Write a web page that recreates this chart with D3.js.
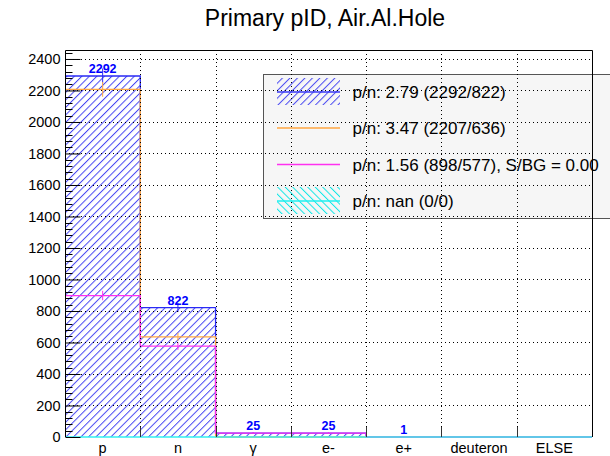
<!DOCTYPE html>
<html>
<head>
<meta charset="utf-8">
<script src="https://cdn.jsdelivr.net/npm/d3@7"></script>
<style>
  html, body { margin: 0; padding: 0; background: #fff; }
  svg { display: block; font-family: "Liberation Sans", Arial, Helvetica, sans-serif; }
</style>
</head>
<body>
<svg id="chart" width="610" height="456"></svg>
<script>
// Particle categories along the x axis
const categories = ["p", "n", "γ", "e-", "e+", "deuteron", "ELSE"];

// Counts per category for each histogram
const allCounts    = [2292, 822, 25, 25, 1, 0, 0];   // blue, hatched
const orangeCounts = [2207, 636, 0, 0, 0, 0, 0];
const pinkCounts   = [898, 577, 25, 25, 0, 0, 0];
const cyanCounts   = [0, 0, 0, 0, 0, 0, 0];          // cyan, hatched

const yTicks = d3.range(0, 2401, 200);

const legendLabels = [
  "p/n: 2.79 (2292/822)",
  "p/n: 3.47 (2207/636)",
  "p/n: 1.56 (898/577), S/BG = 0.00",
  "p/n: nan (0/0)"
];

const svg = d3.select("#chart");
const plotL = 65, plotR = 592, plotT = 50, plotB = 437;

const x = d3.scaleBand().domain(categories).range([plotL, plotR]).padding(0);
const y = d3.scaleLinear().domain([0, 2457]).range([plotB, plotT]);

// Hatch patterns
const defs = svg.append("defs");
function hatch(id, color, dir) {
  const p = defs.append("pattern")
    .attr("id", id).attr("patternUnits", "userSpaceOnUse")
    .attr("width", 5.3).attr("height", 5.3)
    .attr("patternTransform", `rotate(${dir > 0 ? 45 : -45})`);
  p.append("line").attr("x1", 0.5).attr("y1", 0).attr("x2", 0.5).attr("y2", 5.3)
    .attr("stroke", color).attr("stroke-width", 1);
}
hatch("hatchBlue", "#4848f2", 1);
hatch("hatchCyan", "#10e8e8", -1);

// Step outline of a histogram (starts at the top of the first bin)
function stepPath(values) {
  let d = "";
  values.forEach((v, i) => {
    const x0 = x(categories[i]), x1 = x0 + x.bandwidth();
    d += `${i === 0 ? "M" : "L"}${x0 + (i === 0 ? 1 : 0)},${y(v)}L${x1},${y(v)}`;
  });
  return d;
}

function drawHist(values, color, fill) {
  const g = svg.append("g");
  if (fill) {
    g.selectAll("rect").data(values).join("rect")
      .attr("x", (d, i) => x(categories[i]))
      .attr("width", x.bandwidth())
      .attr("y", d => y(d))
      .attr("height", d => y(0) - y(d))
      .attr("fill", fill);
  }
  g.append("path").attr("d", stepPath(values))
    .attr("fill", "none").attr("stroke", color).attr("stroke-width", 1.3);
  // Poisson error bars at bin centres
  g.selectAll("line.err").data(values).join("line")
    .attr("class", "err")
    .attr("x1", (d, i) => x(categories[i]) + x.bandwidth() / 2)
    .attr("x2", (d, i) => x(categories[i]) + x.bandwidth() / 2)
    .attr("y1", d => y(d + Math.sqrt(d)))
    .attr("y2", d => y(Math.max(0, d - Math.sqrt(d))))
    .attr("stroke", color).attr("stroke-width", 1)
    .attr("display", d => d > 0 ? null : "none");
}

drawHist(allCounts, "#2a2af5", "url(#hatchBlue)");
drawHist(orangeCounts, "#ffa640", null);
drawHist(pinkCounts, "#ff30f0", null);
drawHist(cyanCounts, "#30f0f0", "url(#hatchCyan)");

// Count labels above the blue histogram
svg.append("g").selectAll("text").data(allCounts).join("text")
  .attr("x", (d, i) => x(categories[i]) + x.bandwidth() / 2)
  .attr("y", d => y(d) - 3)
  .attr("text-anchor", "middle")
  .attr("font-size", 12.5).attr("font-weight", "bold")
  .attr("fill", "#0000ff")
  .text(d => d > 0 ? d : "");

// Legend
const lg = svg.append("g");
lg.append("rect").attr("x", 263.5).attr("y", 74.5).attr("width", 360).attr("height", 144)
  .attr("fill", "#f6f6f6").attr("stroke", "#555").attr("stroke-width", 1);
const rowY = [92, 128, 164.5, 201];
const sx0 = 277, sx1 = 340;
const legendStyles = [
  { color: "#3a3af5", fill: "url(#hatchBlue)" },
  { color: "#ffa640", fill: null },
  { color: "#ff30f0", fill: null },
  { color: "#20f0f0", fill: "url(#hatchCyan)" }
];
legendLabels.forEach((label, i) => {
  const s = legendStyles[i];
  if (s.fill) {
    lg.append("rect").attr("x", sx0).attr("y", rowY[i] - 14).attr("width", sx1 - sx0).attr("height", 27)
      .attr("fill", s.fill);
  }
  lg.append("line").attr("x1", sx0).attr("x2", sx1).attr("y1", rowY[i]).attr("y2", rowY[i])
    .attr("stroke", s.color).attr("stroke-width", 1.6);
  lg.append("text").attr("x", 352.5).attr("y", rowY[i] + 6)
    .attr("font-size", 17).attr("fill", "#000").text(label);
});

// Dotted grid
const grid = svg.append("g").attr("stroke", "#000").attr("stroke-width", 1)
  .attr("stroke-dasharray", "1,3");
grid.selectAll("line.h").data(yTicks.filter(v => v > 0)).join("line").attr("class", "h")
  .attr("x1", plotL).attr("x2", plotR)
  .attr("y1", d => Math.round(y(d)) + 0.5).attr("y2", d => Math.round(y(d)) + 0.5);
grid.selectAll("line.v").data(categories.slice(1)).join("line").attr("class", "v")
  .attr("x1", d => Math.round(x(d)) + 0.5).attr("x2", d => Math.round(x(d)) + 0.5)
  .attr("y1", plotT).attr("y2", plotB);

// Frame
svg.append("path")
  .attr("d", `M${plotL + 0.5},${plotB}V${plotT + 0.5}H${plotR + 0.5}V${plotB}`)
  .attr("fill", "none").attr("stroke", "#000").attr("stroke-width", 1);

// Y axis with minor ticks
const yAxis = d3.axisLeft(y).tickValues(yTicks).tickSize(-15).tickPadding(20).tickFormat(d3.format("d"));
const ya = svg.append("g").attr("transform", `translate(${plotL + 0.5},0)`).call(yAxis);
ya.select(".domain").remove();
ya.selectAll("text").attr("font-size", 14.5).attr("font-family", "Liberation Sans, Arial, sans-serif")
  .attr("x", -5).attr("fill", "#000");
ya.selectAll("line").attr("stroke", "#000");
const minor = d3.range(0, 2457, 40).filter(v => v % 200 !== 0);
svg.append("g").selectAll("line").data(minor).join("line")
  .attr("x1", plotL).attr("x2", plotL + 7.5)
  .attr("y1", d => Math.round(y(d)) + 0.5).attr("y2", d => Math.round(y(d)) + 0.5)
  .attr("stroke", "#000");

// X axis: ticks at bin edges, labels at bin centres
const xa = svg.append("g").attr("transform", `translate(0,${plotB})`)
  .call(d3.axisBottom(x).tickSize(0).tickPadding(10));
xa.select(".domain").remove();
xa.selectAll("text").attr("font-size", 14.5).attr("font-family", "Liberation Sans, Arial, sans-serif")
  .attr("fill", "#000").attr("dy", "0.71em").attr("y", 6);
svg.append("g").selectAll("line").data(categories.slice(1)).join("line")
  .attr("x1", d => Math.round(x(d)) + 0.5).attr("x2", d => Math.round(x(d)) + 0.5)
  .attr("y1", plotB).attr("y2", plotB - 10)
  .attr("stroke", "#333");

// Title
svg.append("text").attr("x", 325).attr("y", 26).attr("text-anchor", "middle")
  .attr("font-size", 23).attr("fill", "#000").text("Primary pID, Air.Al.Hole");
</script>
</body>
</html>
